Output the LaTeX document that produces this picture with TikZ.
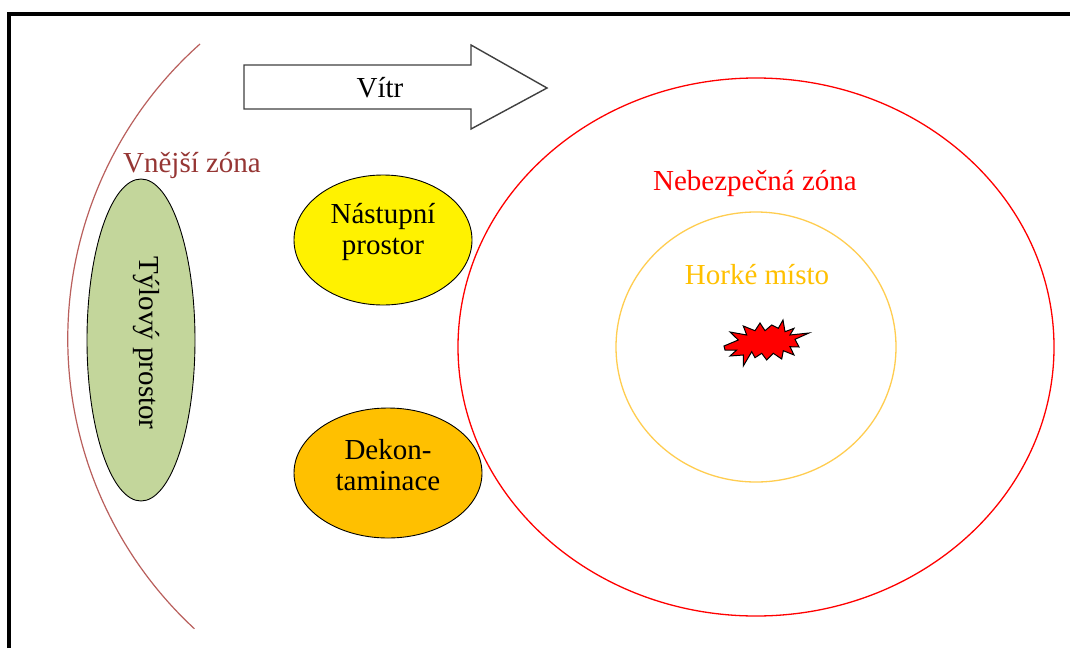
\documentclass[tikz,border=0pt]{standalone}
\usepackage{fontspec}
\setmainfont{Liberation Serif}
\newfontfamily\tnr{Liberation Serif}
\usetikzlibrary{shapes.geometric}
\definecolor{arccol}{RGB}{185,95,92}
\definecolor{outertext}{RGB}{150,54,52}
\definecolor{hotcol}{RGB}{255,192,0}
\definecolor{hotline}{RGB}{255,205,80}
\definecolor{greenfill}{RGB}{195,214,155}
\definecolor{orangefill}{RGB}{255,192,0}
\definecolor{arrowline}{RGB}{64,64,64}
\tikzset{
  zone/.style={ellipse, draw=black, line width=0.9pt, inner sep=0pt},
  lbl/.style={font=\tnr\fontsize{29}{31}\selectfont, align=center, inner sep=0pt},
}
\begin{document}
\begin{tikzpicture}[x=1pt,y=-1pt]
\useasboundingbox (0,0) rectangle (1070,648);
\fill[white] (0,0) rectangle (1070,648);
% frame
\draw[line width=3.5pt, line join=miter] (9,648) -- (9,14) -- (1070,14);
% outer zone arc
\coordinate (arcA) at (200,44);
\draw[arccol, line width=1.2pt] (arcA) arc[start angle=228.3, end angle=132.8, radius=395];
\node[lbl, text=outertext] (outer) at (192,165) {Vnější zóna};
% wind arrow
\draw[arrowline, line width=1.4pt, line join=miter, fill=white]
  (244,65) -- (471,65) -- (471,45) -- (547,88) -- (471,129) -- (471,109) -- (244,109) -- cycle;
\node[lbl] (wind) at (380,88) {Vítr};
% danger zone
\coordinate (center) at (756,347);
\draw[red, line width=1.3pt] (center) ellipse [x radius=298, y radius=269];
\node[lbl, text=red] (danger) at (755,183) {Nebezpečná zóna};
\draw[hotline, line width=1.3pt] (center) ellipse [x radius=140, y radius=135];
\node[lbl, text=hotcol] (hot) at (757,275) {Horké místo};
% explosion
\fill[red, draw=black, line width=1pt, line join=miter]
 (724,346) -- (738.3,340) -- (730,332) -- (746.7,335) -- (743.3,326) -- (755,330.7) -- (760,323) -- (765,330.7) -- (771.7,325) -- (778.3,328.3) -- (783,320) -- (785,331.7) -- (794,328.3) -- (790,335) -- (809,333) -- (795,339.3) -- (799,347) -- (790,346.7) -- (794,355) -- (783.3,350.7) -- (781.7,359) -- (773.3,353.3) -- (766.7,360) -- (761.7,353.3) -- (755,357.7) -- (751.7,351.7) -- (743.3,366) -- (743.3,355) -- (730,356) -- (736.7,350) -- (725,350) -- cycle;
% ellipses
\node[zone, fill=greenfill, minimum width=108pt, minimum height=322pt] (rear) at (141,340) {};
\node[lbl, rotate=-90] (reart) at (146,343) {Týlový prostor};
\node[zone, fill=yellow, minimum width=178pt, minimum height=130pt] (entry) at (383,240) {};
\node[lbl] (entryt) at (383,232) {Nástupní\\prostor};
\node[zone, fill=orangefill, minimum width=188pt, minimum height=130pt] (decon) at (388,473) {};
\node[lbl] (decont) at (388,465) {Dekon-\\taminace};
\end{tikzpicture}
\end{document}
